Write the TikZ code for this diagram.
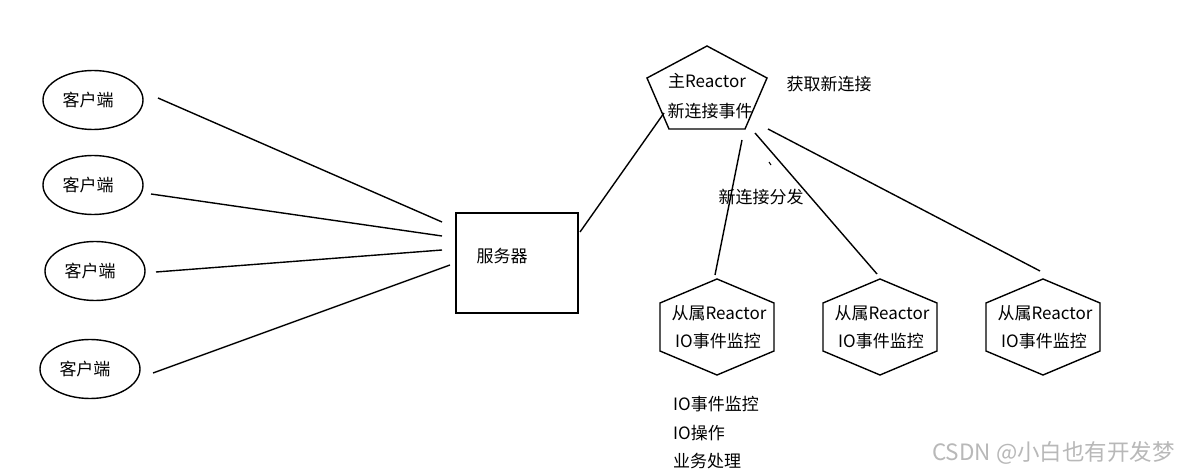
\documentclass[tikz,border=0pt]{standalone}
\usepackage{fontspec}
\setmainfont{Noto Sans CJK SC}
\usetikzlibrary{shapes.geometric}
\begin{document}
\begin{tikzpicture}[x=1pt,y=-1pt,
  shp/.style={draw, line width=1.4pt},
  client/.style={shp, ellipse, minimum width=100pt, minimum height=59pt, inner sep=0pt, font=\fontsize{17}{19}\selectfont},
  lbl/.style={inner sep=0pt, font=\fontsize{17}{19}\selectfont},
  conn/.style={line width=1.4pt},
  wm/.style={inner sep=0pt, text=black!28, font=\fontsize{22.5}{24}\selectfont}]
\useasboundingbox[fill=white] (0,0) rectangle (1179,473);

% clients
\node[client] (k1) at (93,100) {客户端\hspace*{10pt}};
\node[client] (k2) at (93,185) {客户端\hspace*{10pt}};
\node[client] (k3) at (95,271) {客户端\hspace*{10pt}};
\node[client] (k4) at (90,369) {客户端\hspace*{10pt}};

% server
\node[shp, minimum width=122pt, minimum height=100pt, inner sep=0pt] (srv) at (517,263) {};
\node[lbl] (srvt) at (502,256) {服务器};

% main reactor pentagon
\coordinate (p1) at (707,46);
\coordinate (p2) at (767,78);
\coordinate (p3) at (745,129);
\coordinate (p4) at (669,129);
\coordinate (p5) at (647,78);
\draw[shp, line join=miter] (p1) -- (p2) -- (p3) -- (p4) -- (p5) -- cycle;
\node[lbl] (m1) at (707,81) {主Reactor};
\node[lbl] (m2) at (710,111) {新连接事件};
\node[lbl] (get) at (829,84) {获取新连接};

% sub reactors
\foreach \n/\cx in {h1/717,h2/880,h3/1043}{
  \draw[shp] (\cx,279) -- (\cx+57,303) -- (\cx+57,351) -- (\cx,375) -- (\cx-57,351) -- (\cx-57,303) -- cycle;
  \node[lbl] (\n a) at (\cx+2,313) {从属Reactor};
  \node[lbl] (\n b) at (\cx+1,341) {IO事件监控};
}

\node[lbl] (dist) at (761,197) {新连接分发};

% bottom list
\node[lbl, anchor=west] (l1) at (673,404) {IO事件监控};
\node[lbl, anchor=west] (l2) at (673,433) {IO操作};
\node[lbl, anchor=west] (l3) at (673,461) {业务处理};

% connector end points
\coordinate (a1) at (158,98);   \coordinate (b1) at (442,222);
\coordinate (a2) at (151,194);  \coordinate (b2) at (442,236);
\coordinate (a3) at (156,272);  \coordinate (b3) at (442,250);
\coordinate (a4) at (153,373);  \coordinate (b4) at (450,265);
\coordinate (s1) at (580,232);  \coordinate (s2) at (664,113);
\coordinate (q1) at (742,140);  \coordinate (r1) at (715,275);
\coordinate (q2) at (755,133);  \coordinate (r2) at (877,274);
\coordinate (q3) at (768,129);  \coordinate (r3) at (1040,271);
\coordinate (t1) at (769,162);  \coordinate (t2) at (771,165);

\draw[conn] (a1) -- (b1);
\draw[conn] (a2) -- (b2);
\draw[conn] (a3) -- (b3);
\draw[conn] (a4) -- (b4);
\draw[conn] (s1) -- (s2);
\draw[conn] (q1) -- (r1);
\draw[conn] (q2) -- (r2);
\draw[conn] (q3) -- (r3);
\draw[line width=1pt] (t1) -- (t2);

% watermark
\node[wm, anchor=west] (w) at (932,453) {CSDN @小白也有开发梦};
\end{tikzpicture}
\end{document}
